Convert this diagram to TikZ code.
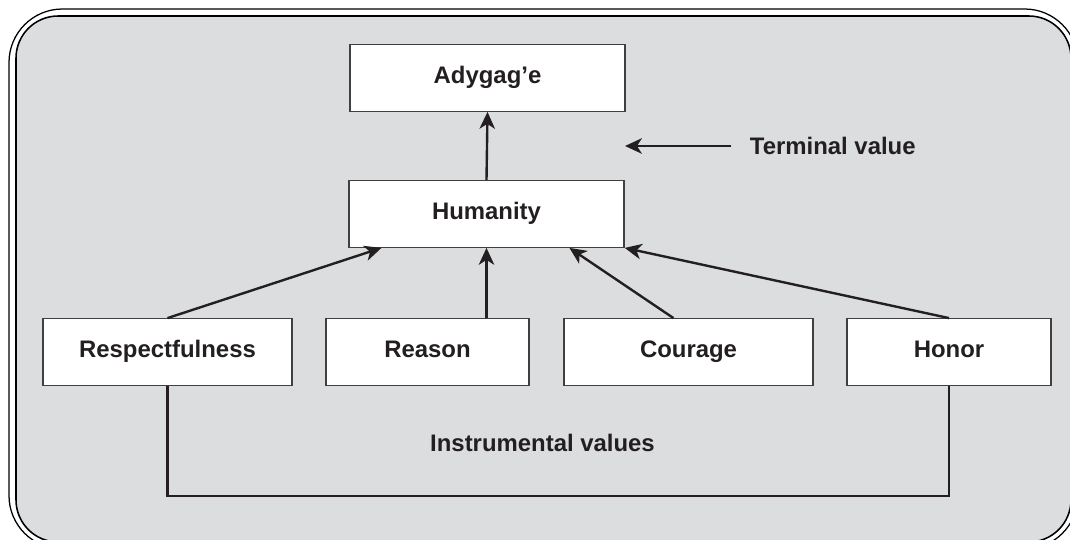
\documentclass[tikz,border=0pt]{standalone}
\usepackage{fontspec}
\setmainfont{Liberation Sans}
\usetikzlibrary{positioning, arrows.meta, calc}
\definecolor{panelgray}{HTML}{DCDDDF}
\definecolor{boxline}{HTML}{404040}
\definecolor{inkdark}{HTML}{231F20}
\begin{document}
\begin{tikzpicture}[x=0.025cm, y=-0.025cm]
	% 定义样式
	\tikzset{
		value box/.style={
			draw=boxline, fill=white, line width=1pt,
			minimum height=1.66cm, inner sep=0pt,
			text height=1.6ex, text depth=0.2ex,
			font=\fontsize{17}{20}\selectfont\bfseries, text=inkdark
		},
		label text/.style={
			font=\fontsize{17}{20}\selectfont\bfseries, text=inkdark
		},
		link/.style={
			draw=inkdark, line width=1.7pt,
			-{Stealth[length=12pt, width=11pt, inset=3.5pt]}
		},
		bracket/.style={
			draw=inkdark, line width=1.7pt
		}
	}
	
	% 画布与外框
	\clip (0,0) rectangle (1070,539);
	\draw[line width=0.9pt, rounded corners=38] (9,9) rectangle (1078,549);
	\draw[fill=panelgray, line width=1.1pt, rounded corners=30] (16,16) rectangle (1071,542);
	
	% 上层两个节点
	\node[value box, minimum width=6.875cm] (adygage) at (487.5,78) {Adygag’e};
	\node[value box, minimum width=6.875cm] (humanity) at (486.5,214) {Humanity};
	
	% 下层四个节点
	\foreach \name/\x/\w/\txt in {respect/167.5/6.225cm/Respectfulness,
		reason/427.5/5.075cm/Reason,
		courage/688.5/6.225cm/Courage,
		honor/949/5.1cm/Honor} {
		\node[value box, minimum width=\w] (\name) at (\x,352) {\txt};
	}
	
	% 说明文字
	\node[label text, anchor=west] (terminal) at (745,146) {Terminal value};
	\coordinate (termtip) at (625,146);
	\node[label text] (instrumental) at (542.5,443) {Instrumental values};
	
	% 箭头
	\draw[link] (humanity.north) -- (adygage.south);
	\draw[link] (terminal.west) ++(-14,0) -- (termtip);
	\draw[link] (respect.north) -- ($(humanity.south west)!0.12!(humanity.south east)$);
	\draw[link] (humanity.south |- reason.north) -- (humanity.south);
	\draw[link] ($(courage.north west)!0.44!(courage.north east)$) -- ($(humanity.south west)!0.8!(humanity.south east)$);
	\draw[link] (honor.north) -- (humanity.south east);
	
	% 底部连线
	\coordinate (base) at (558,496);
	\draw[bracket] (respect.south) |- (base) -| (honor.south);
\end{tikzpicture}
\end{document}
